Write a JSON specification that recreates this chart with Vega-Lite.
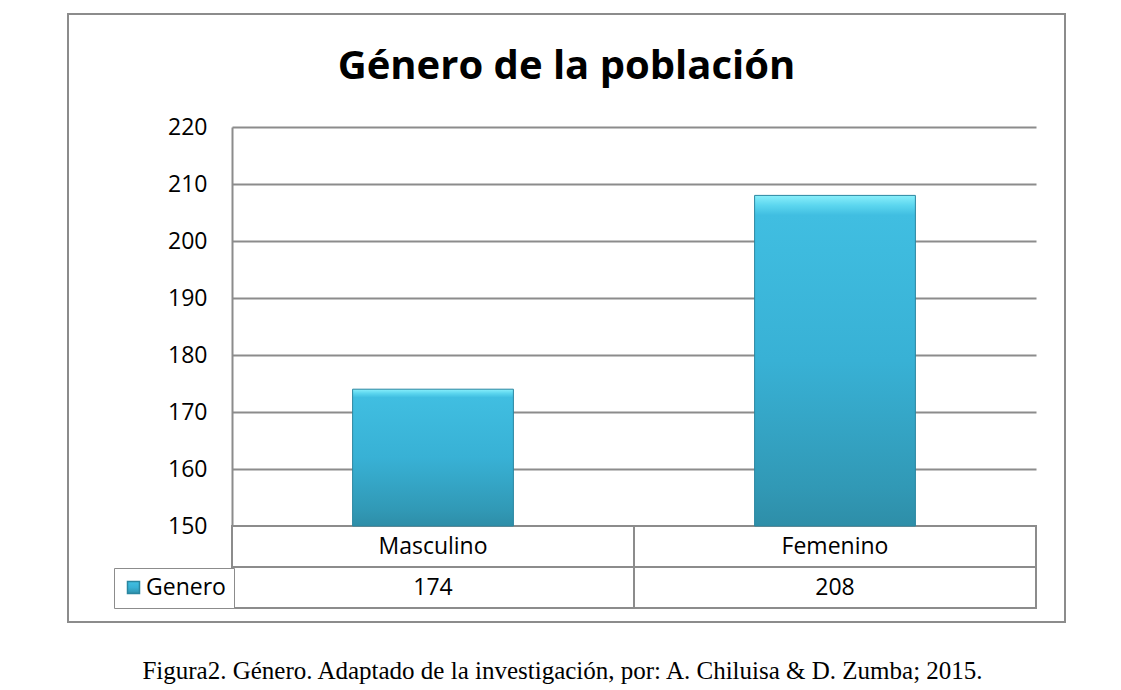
{
  "$schema": "https://vega.github.io/schema/vega-lite/v6.json",
  "width": 997,
  "height": 608,
  "autosize": {"type": "none"},
  "padding": {"left": 68, "top": 14, "right": 56, "bottom": 68},
  "background": "white",
  "config": {
    "view": {"stroke": "#8c8c8c", "strokeWidth": 2},
    "font": "Open Sans"
  },
  "title": {
    "text": "Género de la población",
    "font": "Open Sans",
    "fontSize": 40,
    "fontWeight": "bold",
    "color": "black",
    "anchor": "middle",
    "baseline": "alphabetic",
    "offset": -105
  },
  "data": {
    "values": [
      {"Categoria": "Masculino", "Genero": 174, "Serie": "Genero"},
      {"Categoria": "Femenino", "Genero": 208, "Serie": "Genero"}
    ]
  },
  "resolve": {
    "scale": {"x": "independent", "y": "independent"},
    "axis": {"x": "independent", "y": "independent"}
  },
  "layer": [
    {
      "transform": [{"fold": ["Categoria", "Genero"], "as": ["Fila", "Valor"]}],
      "mark": {"type": "rect", "fill": "white", "stroke": "#8c8c8c", "strokeWidth": 2},
      "encoding": {
        "x": {"field": "Categoria", "type": "nominal", "sort": ["Masculino", "Femenino"],
              "scale": {"range": [164, 968], "paddingInner": 0, "paddingOuter": 0}, "axis": null},
        "y": {"field": "Fila", "type": "nominal", "sort": ["Categoria", "Genero"],
              "scale": {"range": [512, 594], "paddingInner": 0, "paddingOuter": 0}, "axis": null}
      }
    },
    {
      "transform": [{"fold": ["Categoria", "Genero"], "as": ["Fila", "Valor"]}],
      "mark": {"type": "text", "font": "Open Sans", "fontSize": 23, "color": "black"},
      "encoding": {
        "x": {"field": "Categoria", "type": "nominal", "sort": ["Masculino", "Femenino"],
              "scale": {"range": [164, 968], "paddingInner": 0, "paddingOuter": 0}, "axis": null},
        "y": {"field": "Fila", "type": "nominal", "sort": ["Categoria", "Genero"],
              "scale": {"range": [512, 594], "paddingInner": 0, "paddingOuter": 0}, "axis": null},
        "text": {"field": "Valor", "type": "nominal"}
      }
    },
    {
      "mark": {"type": "bar", "stroke": "#2a86a0", "strokeWidth": 1},
      "encoding": {
        "x": {
          "field": "Categoria", "type": "nominal", "sort": ["Masculino", "Femenino"],
          "scale": {"range": [164, 968], "paddingInner": 0.6, "paddingOuter": 0.3},
          "axis": {
            "title": "Figura2. Género. Adaptado de la investigación, por: A. Chiluisa & D. Zumba; 2015.",
            "labels": false, "ticks": false, "domain": false, "grid": false,
            "titleFont": "Liberation Serif", "titleFontSize": 25, "titleFontWeight": "normal",
            "titleColor": "black", "titlePadding": 36, "titleX": 494
          }
        },
        "y": {
          "field": "Genero", "type": "quantitative",
          "scale": {"domain": [150, 220], "range": [512, 113], "zero": false, "nice": false},
          "axis": {
            "title": null,
            "values": [150, 160, 170, 180, 190, 200, 210, 220],
            "offset": -164,
            "grid": true, "gridColor": "#8c8c8c", "gridWidth": 2,
            "domainColor": "#8c8c8c", "domainWidth": 2,
            "ticks": false, "labelPadding": 25,
            "labelFont": "Open Sans", "labelFontSize": 23, "labelColor": "black"
          }
        },
        "y2": {"datum": 150},
        "color": {
          "field": "Serie", "type": "nominal",
          "scale": {"range": [{"expr": "{gradient: 'linear', x1: 0, y1: 0, x2: 0, y2: 1, stops: [{offset: 0, color: '#8aeffb'}, {offset: 0.03, color: '#5cd6ef'}, {offset: 0.06, color: '#40bee1'}, {offset: 0.5, color: '#38b1d5'}, {offset: 0.88, color: '#3199b6'}, {offset: 1, color: '#2e8ea8'}]}"}]},
          "legend": {
            "title": null, "orient": "none", "legendX": 46, "legendY": 554,
            "padding": 8, "strokeColor": "#8c8c8c", "fillColor": "white",
            "symbolType": "square", "symbolSize": 144, "labelOffset": 1,
            "labelFont": "Open Sans", "labelFontSize": 23, "labelColor": "black"
          }
        }
      }
    }
  ]
}
